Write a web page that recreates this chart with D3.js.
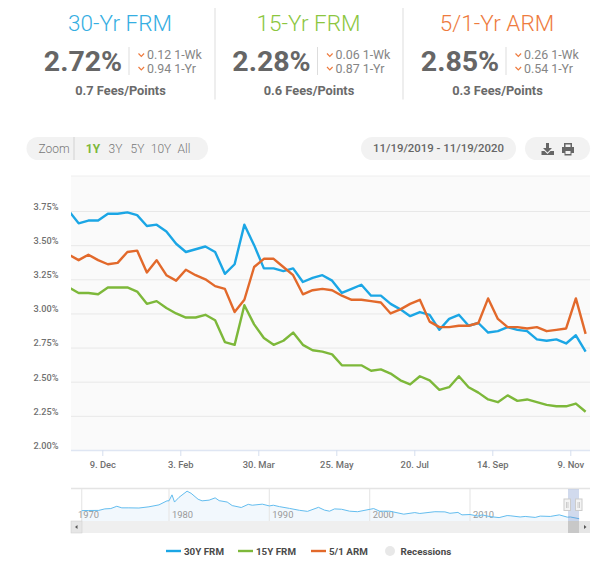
<!DOCTYPE html>
<html><head><meta charset="utf-8">
<script src="https://cdnjs.cloudflare.com/ajax/libs/d3/7.8.5/d3.min.js"></script>
<style>html,body{margin:0;padding:0;background:#fff}svg{display:block;font-family:Roboto,sans-serif}</style>
</head><body><svg id="c" width="610" height="566"></svg>
<script>
const rates30 = [3.75,3.66,3.68,3.68,3.73,3.73,3.74,3.72,3.64,3.65,3.60,3.51,3.45,3.47,3.49,3.45,3.29,3.36,3.65,3.50,3.33,3.33,3.31,3.33,3.23,3.26,3.28,3.24,3.15,3.18,3.21,3.13,3.13,3.07,3.03,2.98,3.01,2.99,2.88,2.96,2.99,2.91,2.93,2.86,2.87,2.90,2.88,2.87,2.81,2.80,2.81,2.78,2.84,2.72];
const rates15 = [3.19,3.15,3.15,3.14,3.19,3.19,3.19,3.16,3.07,3.09,3.04,3.00,2.97,2.97,2.99,2.95,2.79,2.77,3.06,2.92,2.82,2.77,2.80,2.86,2.77,2.73,2.72,2.70,2.62,2.62,2.62,2.58,2.59,2.56,2.51,2.48,2.54,2.51,2.44,2.46,2.54,2.46,2.42,2.37,2.35,2.40,2.36,2.37,2.35,2.33,2.32,2.32,2.34,2.28];
const ratesArm = [3.43,3.39,3.43,3.39,3.36,3.37,3.45,3.46,3.30,3.39,3.28,3.24,3.32,3.28,3.25,3.20,3.18,3.01,3.10,3.34,3.40,3.40,3.34,3.28,3.14,3.17,3.18,3.17,3.13,3.10,3.10,3.09,3.08,3.00,3.03,3.07,3.10,2.94,2.90,2.90,2.91,2.91,2.93,3.11,2.96,2.90,2.90,2.89,2.90,2.87,2.88,2.89,3.11,2.85];
const seriesNames = ["30Y FRM","15Y FRM","5/1 ARM"];
const seriesColors = ["#1ba6e5","#7db83a","#e2692b"];
const yTicks = [2,2.25,2.5,2.75,3,3.25,3.5,3.75];
const xTickDates = ["2019-12-09","2020-02-03","2020-03-30","2020-05-25","2020-07-20","2020-09-14","2020-11-09"];
const xTickLabels = ["9. Dec","3. Feb","30. Mar","25. May","20. Jul","14. Sep","9. Nov"];
const navYears = [1971.3,1972,1973,1973.6,1974.2,1974.8,1975.3,1976,1977,1978,1979,1979.8,1980,1980.3,1980.55,1981,1981.8,1982.2,1982.9,1983.3,1984,1984.6,1985,1985.8,1986.3,1987.2,1987.9,1988.3,1989.3,1990,1990.4,1991,1992,1993,1993.8,1994.9,1995.5,1996,1996.5,1997.2,1998,1998.8,2000.4,2001,2002,2003.4,2004.5,2005,2006.5,2007.5,2008,2008.8,2009.2,2010,2010.8,2011.2,2012,2012.9,2013.7,2014,2015,2015.5,2016.5,2017,2018,2018.9,2019.7,2020,2020.88];
const navRates = [7.33,7.4,7.45,8.3,8.5,9.8,8.9,8.9,8.8,9.5,10.6,12.9,12.9,16.3,12.2,14.9,18.4,17.2,13.8,12.9,13.3,14.6,13,12.2,10.2,9.1,10.9,10.4,11,10,10.4,9.6,8.6,7.5,6.9,9.2,7.6,7,8.3,8.1,7,6.7,8.5,7,7,5.3,6.2,5.7,6.7,6.6,5.8,6.3,4.9,5.1,4.2,4.9,3.9,3.35,4.5,4.4,3.7,4,3.45,4.2,4,4.9,3.6,3.7,2.72];
const navTickYears = [1970,1980,1990,2000,2010];
const navTickPos = [1971.3,1980,1990,2000,2010];
const panelTitles = ["30-Yr FRM","15-Yr FRM","5/1-Yr ARM"];
const panelColors = ["#35aee2","#8cc63f","#ee7b3e"];
const panelRates = ["2.72%","2.28%","2.85%"];
const panelWk = ["0.12 1-Wk","0.06 1-Wk","0.26 1-Wk"];
const panelYr = ["0.94 1-Yr","0.87 1-Yr","0.54 1-Yr"];
const panelFees = ["0.7 Fees/Points","0.6 Fees/Points","0.3 Fees/Points"];
const zoomLabels = ["1Y","3Y","5Y","10Y","All"];
const zoomX = [93,115.5,137.5,161,184];

const svg = d3.select("#c");
const L=71,R=590,T=176,B=450;
const parse = d3.utcParse("%Y-%m-%d");
const start = parse("2019-11-15");
const dates = rates30.map((_,i)=>d3.utcDay.offset(start,i*7));
const x = d3.scaleUtc().domain([parse("2019-12-09"),parse("2020-11-09")]).range([102.3,570.3]);
const y = d3.scaleLinear().domain([2,3.75]).range([B,211]);

// header panels
[215,403].forEach(px=>svg.append("line").attr("x1",px).attr("x2",px).attr("y1",8).attr("y2",99.5).attr("stroke","#e8e8e8").attr("stroke-width",1.5));
panelTitles.forEach((t,i)=>{
  const g = svg.append("g").attr("transform",`translate(${i*188.5},0)`);
  g.append("text").attr("x",120).attr("y",31).attr("text-anchor","middle").attr("font-size",22.5).attr("font-weight",300).attr("fill",panelColors[i]).text(t);
  g.append("text").attr("x",83).attr("y",71).attr("text-anchor","middle").attr("font-size",28.5).attr("font-weight",700).attr("fill","#666").text(panelRates[i]);
  g.append("line").attr("x1",129).attr("x2",129).attr("y1",47).attr("y2",75).attr("stroke","#ddd");
  [[panelWk[i],59],[panelYr[i],72.5]].forEach(([s,by])=>{
    g.append("path").attr("d",`M138.5 ${by-5.5}l2.8 2.8l2.8 -2.8`).attr("fill","none").attr("stroke","#ee7b3e").attr("stroke-width",1.2);
    g.append("text").attr("x",147).attr("y",by).attr("font-size",12.4).attr("fill","#858585").text(s);
  });
  g.append("text").attr("x",120.5).attr("y",95).attr("text-anchor","middle").attr("font-size",12.8).attr("font-weight",700).attr("fill","#6a6a6a").text(panelFees[i]);
});

// controls
const pill=(x0,x1)=>svg.append("rect").attr("x",x0).attr("y",137).attr("width",x1-x0).attr("height",23).attr("rx",11.5).attr("fill","#f2f2f2");
pill(26.5,208);pill(361,516);pill(525,590);
svg.append("rect").attr("x",73).attr("y",137).attr("width",2).attr("height",23).attr("fill","#e2e2e2");
svg.append("text").attr("x",54).attr("y",152.5).attr("text-anchor","middle").attr("font-size",12).attr("font-weight",300).attr("fill","#777").text("Zoom");
zoomLabels.forEach((t,i)=>svg.append("text").attr("x",zoomX[i]).attr("y",152.5).attr("text-anchor","middle").attr("font-size",12)
  .attr("font-weight",i==0?700:300).attr("fill",i==0?"#7db83a":"#777").text(t));
svg.append("text").attr("x",438.5).attr("y",152).attr("text-anchor","middle").attr("font-size",11.4).attr("font-weight",500).attr("fill","#666").text("11/19/2019 - 11/19/2020");
// icons
svg.append("path").attr("fill","#666").attr("d","M546 143h3v5h3l-4.500 4.500l-4.500-4.500h3z M541.500 151h3l3 3l3-3h3.500v4h-12.500z");
svg.append("path").attr("fill","#666").attr("fill-rule","evenodd").attr("d","M564 143h8v4h2v6h-2.500v2.500h-7v-2.500h-2.500v-6h2z M565.500 144.500v2.500h5v-2.500z M565.500 151v3h5v-3z");

// plot
svg.append("rect").attr("x",L).attr("y",T).attr("width",R-L).attr("height",B-T).attr("fill","#fafafa");
const yAxis = svg.append("g").attr("transform",`translate(${L},0)`).call(d3.axisLeft(y).tickValues(yTicks).tickSize(-(R-L)).tickFormat(d=>d.toFixed(2)+"%"));
yAxis.select(".domain").remove();
yAxis.selectAll("line").attr("stroke","#e8e8e8");
yAxis.selectAll("text").attr("x",-12.5).attr("dy","-1.6").attr("font-family","Roboto,sans-serif").attr("font-size",9.2).attr("font-weight",500).attr("fill","#707070");
svg.append("line").attr("x1",L).attr("x2",R).attr("y1",T).attr("y2",T).attr("stroke","#eee");
const xAxis = svg.append("g").attr("transform",`translate(0,${B})`).call(d3.axisBottom(x).tickValues(xTickDates.map(parse)).tickSize(6).tickFormat((d,i)=>xTickLabels[i]));
xAxis.select(".domain").attr("d",`M${L} 0.5H${R}`).attr("stroke","#dfe6f3").attr("stroke-width",1.5);
xAxis.selectAll("line").attr("stroke","#d5deee");
xAxis.selectAll("text").attr("y",11).attr("font-family","Roboto,sans-serif").attr("font-size",9.4).attr("font-weight",500).attr("fill","#707070");

svg.append("clipPath").attr("id","pc").append("rect").attr("x",L).attr("y",T).attr("width",R-L).attr("height",B-T);
const line = d3.line().x((d,i)=>x(dates[i])).y(d=>y(d));
[rates30,rates15,ratesArm].forEach((s,k)=>svg.append("path").datum(s).attr("clip-path","url(#pc)").attr("d",line).attr("fill","none").attr("stroke",seriesColors[k]).attr("stroke-width",2.4).attr("stroke-linejoin","round"));

// navigator
const nT=489,nB=521;
const nx = d3.scaleLinear().domain([1980,2010]).range([169,470]);
const ny = d3.scaleLinear().domain([2.72,18.5]).range([518.7,491]);
svg.append("line").attr("x1",L).attr("x2",R).attr("y1",nT-.5).attr("y2",nT-.5).attr("stroke","#e4e4e4").attr("stroke-width",1.5);
svg.append("path").datum(navRates).attr("d",d3.area().x((d,i)=>nx(navYears[i])).y0(nB).y1(d=>ny(d))).attr("fill","#f2f8fd");
navTickPos.forEach((p,i)=>{
  svg.append("line").attr("x1",nx(p)).attr("x2",nx(p)).attr("y1",nT).attr("y2",nB).attr("stroke","#e8e8e8").attr("stroke-width",1.2);
  svg.append("text").attr("x",i==0?78:nx(p)+3).attr("y",518).attr("font-size",9.4).attr("fill","#999").text(navTickYears[i]);
});
svg.append("path").datum(navRates).attr("d",d3.line().x((d,i)=>nx(navYears[i])).y(d=>ny(d))).attr("fill","none").attr("stroke","#63bdef").attr("stroke-width",1);
// scrollbar
svg.append("rect").attr("x",L).attr("y",nB).attr("width",R-L).attr("height",12).attr("fill","#efefef");
svg.append("rect").attr("x",L).attr("y",nB).attr("width",11).attr("height",12).attr("fill","#e6e6e6").attr("stroke","#ccc").attr("stroke-width",.5);
svg.append("rect").attr("x",R-11).attr("y",nB).attr("width",11).attr("height",12).attr("fill","#e6e6e6");
svg.append("path").attr("d",`M77.500 525v4l-2.500-2z M584 525v4l2.500-2z`).attr("fill","#555");
svg.append("rect").attr("x",568).attr("y",nT).attr("width",11).attr("height",nB-nT).attr("fill","#6685c2").attr("opacity",.3);
svg.append("rect").attr("x",568).attr("y",nB).attr("width",11).attr("height",12).attr("fill","#c8c8c8");
[564,575.5].forEach(hx=>{
  svg.append("rect").attr("x",hx).attr("y",499).attr("width",6.5).attr("height",11.5).attr("fill","#f4f4f4").attr("stroke","#ccc");
  svg.append("line").attr("x1",hx+2.5).attr("x2",hx+2.5).attr("y1",502).attr("y2",508).attr("stroke","#ccc");
  svg.append("line").attr("x1",hx+4).attr("x2",hx+4).attr("y1",502).attr("y2",508).attr("stroke","#ccc");
});

// legend
const legX=[166,238,311];
seriesNames.forEach((n,i)=>{
  svg.append("line").attr("x1",legX[i]).attr("x2",legX[i]+15).attr("y1",551).attr("y2",551).attr("stroke",seriesColors[i]).attr("stroke-width",2.4);
  svg.append("text").attr("x",legX[i]+18).attr("y",555).attr("font-size",9.8).attr("font-weight",700).attr("fill","#4a4a4a").text(n);
});
svg.append("circle").attr("cx",390).attr("cy",551).attr("r",5).attr("fill","#e8e8e8");
svg.append("text").attr("x",400.5).attr("y",555).attr("font-size",9.8).attr("font-weight",700).attr("fill","#4a4a4a").text("Recessions");
</script></body></html>
